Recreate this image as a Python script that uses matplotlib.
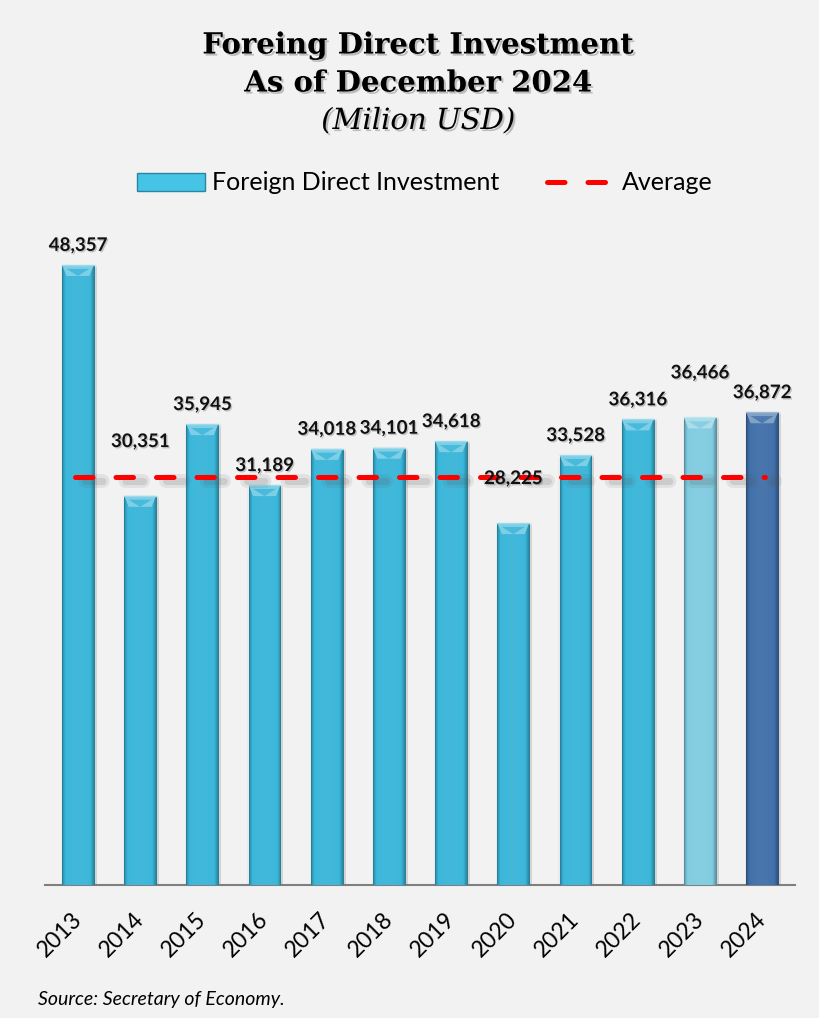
import numpy as np
import matplotlib
matplotlib.use('Agg')
import matplotlib.pyplot as plt
import matplotlib.patheffects as pe
from matplotlib.patches import Polygon, Rectangle, Patch
from matplotlib.lines import Line2D
from matplotlib.colors import to_rgb
import matplotlib.transforms as mtrans

years = ['2013', '2014', '2015', '2016', '2017', '2018',
         '2019', '2020', '2021', '2022', '2023', '2024']
fdi = [48357, 30351, 35945, 31189, 34018, 34101,
       34618, 28225, 33528, 36316, 36466, 36872]
average = 31800
label_extra = [0, 25, 0, 0, 0, 0, 0, 18, 0, 0, 18, 0]   # pt pushed up for a few labels

bar_colors = ['#38b5d9'] * 10 + ['#7fcbe0', '#3f6ea8']
bg = '#f2f2f2'
sans = ['Lato', 'DejaVu Sans']


def shade(c, f):
    r = np.array(to_rgb(c))
    if f >= 0:
        return r + (1 - r) * f
    return r * (1 + f)


fig = plt.figure(figsize=(8.2, 10.18), dpi=100, facecolor=bg)
ax = fig.add_axes([45 / 820, 1 - 885 / 1018, 750 / 820, 655 / 1018])
ax.set_facecolor(bg)

x = np.arange(len(years))
w = 0.51
ymax = 48357 * 655 / 620
px_y = ymax / 655.0

# soft shadow around bars
for xi, v in zip(x, fdi):
    for k in range(4):
        ax.add_patch(Rectangle((xi - w / 2 - 0.02 + k * 0.03, 0), w + 0.04 - k * 0.03 + 0.03,
                               v - px_y * (3 - k), facecolor='#000000', alpha=0.03, lw=0,
                               zorder=1))

bars = ax.bar(x, fdi, width=w, color=bar_colors, edgecolor='none', zorder=2)

# slight side shading and bevel on top
for b, c in zip(bars, bar_colors):
    x0, bw, h = b.get_x(), b.get_width(), b.get_height()
    t = np.linspace(0, 1, 64)
    edge = np.minimum(t, 1 - t)
    prof = np.where(edge < 0.1, -0.25 * (1 - edge / 0.1), 0.05 * np.sin(t * np.pi))
    cols = np.array([shade(c, p) for p in prof])
    im = ax.imshow(cols[None, :, :], extent=(x0, x0 + bw, 0, h), aspect='auto', zorder=3,
                   interpolation='bilinear')
    im.set_clip_path(b)
    ax.add_patch(Rectangle((x0, 0), bw, h, fill=False, edgecolor=shade(c, -0.3),
                           lw=0.7, zorder=4))
    bh = 11 * px_y
    d = bw * 0.14
    ax.add_patch(Polygon([(x0, h), (x0 + bw, h), (x0 + bw - d, h - bh), (x0 + d, h - bh)],
                         closed=True, facecolor=shade(c, 0.35), edgecolor='none', zorder=4))
    ax.add_patch(Polygon([(x0 + d, h - bh * 0.35), (x0 + bw - d, h - bh * 0.35),
                          (x0 + bw / 2, h - bh)],
                         closed=True, facecolor=shade(c, 0.08), edgecolor='none', zorder=4))
    ax.plot([x0, x0 + bw], [h, h], color=shade(c, 0.5), lw=1.0, zorder=5)

ax.set_xlim(-0.53, len(years) - 1 + 0.53)
ax.set_ylim(0, ymax)

# average line
dash = (0, (3.5, 4.6))
ax.plot([x[0] - 0.05, x[-1] + 0.05], [average, average], color='red', lw=3.6,
        ls=dash, dash_capstyle='round', zorder=6,
        path_effects=[pe.SimpleLineShadow(offset=(7, -3), shadow_color='#555555', alpha=0.10,
                                          linewidth=10),
                      pe.SimpleLineShadow(offset=(7, -3), shadow_color='#555555', alpha=0.15,
                                          linewidth=5),
                      pe.Normal()])

# value labels
for xi, v, ex in zip(x, fdi, label_extra):
    ax.annotate(f'{v:,}', (xi, v), xytext=(0, 8 + ex), textcoords='offset points',
                ha='center', va='bottom', fontsize=13.5, fontweight='bold', family=sans,
                color='#111111', zorder=8,
                path_effects=[pe.withSimplePatchShadow(offset=(1, -1), alpha=0.2)])

for s in ['top', 'right', 'left']:
    ax.spines[s].set_visible(False)
ax.spines['bottom'].set_color('#7f7f7f')
ax.spines['bottom'].set_linewidth(1.5)
ax.set_yticks([])
ax.set_xticks(x)
ax.set_xticklabels(years, rotation=45, ha='right', va='top', rotation_mode='anchor',
                   fontsize=16.5, family=sans)
ax.tick_params(axis='x', length=0, pad=17)
off = mtrans.ScaledTranslation(-7 / 100, 0, fig.dpi_scale_trans)
for lab in ax.get_xticklabels():
    lab.set_transform(lab.get_transform() + off)

# title
tshadow = [pe.withSimplePatchShadow(offset=(1.5, -1.5), alpha=0.22)]
title_font = 'DejaVu Serif'
fig.text(0.51, 1 - 45 / 1018, 'Foreing Direct Investment', ha='center', va='center',
         fontsize=21, fontweight='bold', family=title_font, path_effects=tshadow)
fig.text(0.51, 1 - 83 / 1018, 'As of December 2024', ha='center', va='center',
         fontsize=21, fontweight='bold', family=title_font, path_effects=tshadow)
fig.text(0.51, 1 - 121 / 1018, '(Milion USD)', ha='center', va='center',
         fontsize=21, style='italic', family=title_font, path_effects=tshadow)

# legend
handles = [Patch(facecolor='#45c4e6', edgecolor='#2a86a3', label='Foreign Direct Investment'),
           Line2D([0], [0], color='red', lw=3.6, ls=dash,
                  dash_capstyle='round', label='Average')]
fig.legend(handles=handles, loc='center', bbox_to_anchor=(0.518, 1 - 183 / 1018), ncol=2,
           frameon=False, prop={'family': sans, 'size': 18}, handlelength=2.7,
           handleheight=0.7, columnspacing=1.9, handletextpad=0.3)

fig.text(38 / 820, 1 - 1000 / 1018, 'Source: Secretary of Economy.', ha='left', va='center',
         fontsize=14, style='italic', family=sans)

fig.savefig('out.png', dpi=100, facecolor=bg)
